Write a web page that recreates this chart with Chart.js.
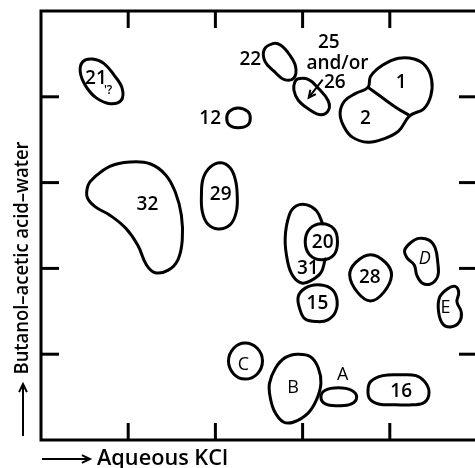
<!DOCTYPE html>
<html>
<head>
<meta charset="utf-8">
<script src="https://cdn.jsdelivr.net/npm/chart.js@4"></script>
<style>
  html, body { margin: 0; padding: 0; background: #fff; overflow: hidden; }
  #wrap { width: 480px; height: 468px; }
</style>
</head>
<body>
<div id="wrap"><canvas id="spots" width="480" height="468"></canvas></div>
<script>
// Spot outlines (both axes 0..50, ticks every 10)
const spot21x = [5.9, 7.2, 8.4, 9.3, 9.2, 7.9, 6.3, 5.1, 4.5, 4.8];
const spot21y = [44.4, 43.9, 42.5, 41.0, 39.6, 39.2, 39.9, 41.3, 42.9, 44.1];

const spot22x = [26.6, 27.5, 28.5, 29.2, 29.0, 27.9, 26.8, 25.7, 25.6];
const spot22y = [46.2, 46.0, 44.9, 43.5, 42.2, 42.0, 42.9, 44.1, 45.5];

const spot25x = [29.5, 30.7, 31.8, 32.9, 33.0, 32.1, 30.8, 29.5, 29.0, 29.1];
const spot25y = [42.1, 42.0, 41.0, 39.6, 38.5, 37.9, 38.5, 39.6, 40.8, 41.7];

const spot12x = [22.6, 23.7, 24.0, 23.7, 22.6, 21.6, 21.3, 21.6];
const spot12y = [38.7, 38.3, 37.5, 36.7, 36.4, 36.7, 37.5, 38.3];

// 1 und 2 zusammen als Umriss, dazu die Trennlinie
const spot1and2x = [37.5, 37.8, 39.2, 41.0, 42.8, 44.1, 44.8, 44.7, 43.9, 42.3, 41.0, 39.3, 37.5, 35.7, 34.7, 34.3, 34.8, 36.1];
const spot1and2y = [41.1, 42.4, 43.7, 44.5, 44.4, 43.6, 42.0, 40.1, 38.6, 37.8, 36.0, 35.1, 34.7, 35.3, 36.6, 38.1, 39.5, 40.4];
const dividerx = [37.5, 39.0, 40.8, 42.3];
const dividery = [41.1, 40.0, 38.7, 37.8];

const spot32x = [6.0, 7.9, 10.2, 12.5, 14.3, 15.4, 16.1, 16.2, 15.7, 14.6, 13.1, 12.1, 11.1, 9.7, 7.9, 6.2, 5.3, 5.4];
const spot32y = [30.5, 31.9, 32.4, 32.2, 30.9, 28.9, 26.2, 23.3, 21.0, 19.8, 19.5, 20.4, 22.7, 24.7, 26.2, 27.2, 28.3, 29.7];

const spot29x = [19.4, 20.6, 21.7, 22.3, 22.5, 22.4, 21.7, 20.3, 19.1, 18.5, 18.4, 18.6];
const spot29y = [31.8, 32.3, 31.7, 30.3, 28.6, 26.6, 25.1, 24.6, 25.2, 26.6, 28.6, 30.5];

// 31 is open: both ends stop at the rim of 20
const spot31x = [32.3, 31.6, 30.5, 29.3, 28.5, 28.0, 28.3, 28.9, 29.9, 31.0, 32.1, 32.6];
const spot31y = [25.2, 26.7, 27.4, 27.3, 26.3, 23.5, 20.7, 19.1, 18.3, 18.6, 19.5, 21.1];

const spot20x = [32.2, 33.6, 34.0, 33.6, 32.2, 30.8, 30.3, 30.8];
const spot20y = [25.2, 24.6, 23.1, 21.6, 21.0, 21.6, 23.1, 24.6];

const spot15x = [31.7, 33.2, 33.9, 33.8, 32.9, 31.7, 30.3, 29.7, 29.5, 30.3];
const spot15y = [18.1, 17.7, 16.6, 15.0, 14.0, 13.8, 14.1, 15.2, 16.7, 17.7];

const spot28x = [37.8, 39.5, 40.2, 39.3, 37.8, 36.3, 35.4, 36.1];
const spot28y = [21.6, 20.7, 19.2, 17.2, 16.2, 17.2, 19.2, 20.7];

const spotDx = [42.4, 43.3, 44.5, 45.2, 45.5, 45.5, 44.7, 43.7, 43.1, 42.8, 42.0, 41.7];
const spotDy = [23.0, 23.5, 23.3, 22.4, 20.7, 19.1, 18.2, 18.3, 19.2, 20.4, 21.2, 22.1];

const spotEx = [46.6, 47.5, 47.9, 47.7, 48.2, 48.0, 47.1, 46.1, 45.6, 45.7];
const spotEy = [17.6, 17.9, 17.2, 16.1, 14.9, 13.8, 13.2, 13.5, 14.9, 16.6];

const spotCx = [23.4, 24.8, 25.4, 24.8, 23.4, 22.1, 21.5, 22.1];
const spotCy = [11.3, 10.7, 9.2, 7.7, 7.1, 7.7, 9.2, 10.7];

const spotBx = [26.9, 28.0, 29.4, 30.9, 31.8, 32.1, 31.6, 30.6, 29.0, 27.8, 26.8, 26.3, 26.2];
const spotBy = [8.4, 9.6, 10.0, 9.7, 8.4, 6.6, 4.7, 3.1, 2.1, 2.1, 3.3, 4.9, 6.6];

const spotAx = [34.1, 35.6, 36.2, 35.6, 34.1, 32.6, 32.1, 32.6];
const spotAy = [6.1, 5.8, 5.0, 4.2, 4.0, 4.2, 5.0, 5.8];

const spot16x = [37.8, 39.2, 41.3, 43.0, 44.0, 44.5, 44.0, 42.6, 40.7, 38.7, 37.7, 37.5];
const spot16y = [6.8, 7.5, 7.6, 7.5, 6.8, 5.6, 4.4, 4.1, 4.1, 4.2, 4.8, 5.8];

// Beschriftungen der Flecken
const labelText = ["21", "'?", "22", "25", "and/or", "26", "1", "2", "12", "32", "29", "20", "31", "15", "28", "D", "E", "C", "B", "A", "16"];
const labelX = [6.3, 7.7, 24.0, 33.0, 34.0, 33.7, 41.3, 37.2, 19.4, 12.2, 20.6, 32.3, 30.6, 31.7, 37.7, 44.0, 46.4, 23.2, 28.9, 34.6, 41.3];
const labelY = [42.1, 40.7, 44.3, 46.3, 43.9, 41.6, 41.6, 37.5, 37.5, 27.4, 28.6, 23.0, 20.0, 15.9, 18.9, 21.1, 15.4, 8.7, 6.1, 7.6, 5.6];

// Pfeil von "26" zum Fleck
const arrowX = [32.3, 30.7];
const arrowY = [42.0, 39.9];

const tickValues = [10, 20, 30, 40];
const xTitle = "Aqueous KCl";
const yTitle = "Butanol\u2013acetic acid\u2013water";

// Punkte bauen; geschlossene Umrisse bekommen vorne und hinten einen Punkt dazu,
// damit die Kurve auch am Anfang rund wird (diese Randstuecke bleiben unsichtbar)
function makePoints(xs, ys, closed) {
  let pts = xs.map(function (x, i) {
    return { x: x, y: ys[i] };
  });
  if (closed) {
    pts = [pts[pts.length - 1]].concat(pts, [pts[0], pts[1]]);
  }
  return pts;
}

function spot(xs, ys, closed) {
  const pts = makePoints(xs, ys, closed);
  const lastSeg = pts.length - 2;
  const ds = {
    data: pts,
    showLine: true,
    borderColor: "#000",
    borderWidth: 3,
    borderJoinStyle: "round",
    borderCapStyle: "round",
    tension: 0.4,
    pointRadius: 0,
    pointHoverRadius: 0,
    fill: false,
  };
  if (closed) {
    ds.segment = {
      borderColor: function (c) {
        if (c.p0DataIndex === 0 || c.p0DataIndex === lastSeg) return "rgba(0,0,0,0)";
        return undefined;
      },
    };
  }
  return ds;
}

const datasets = [
  spot(spot21x, spot21y, true),
  spot(spot22x, spot22y, true),
  spot(spot25x, spot25y, true),
  spot(spot12x, spot12y, true),
  spot(spot1and2x, spot1and2y, true),
  spot(dividerx, dividery, false),
  spot(spot32x, spot32y, true),
  spot(spot29x, spot29y, true),
  spot(spot31x, spot31y, false),
  spot(spot20x, spot20y, true),
  spot(spot15x, spot15y, true),
  spot(spot28x, spot28y, true),
  spot(spotDx, spotDy, true),
  spot(spotEx, spotEy, true),
  spot(spotCx, spotCy, true),
  spot(spotBx, spotBy, true),
  spot(spotAx, spotAy, true),
  spot(spot16x, spot16y, true),
];

function strokeLine(ctx, x1, y1, x2, y2) {
  ctx.beginPath();
  ctx.moveTo(x1, y1);
  ctx.lineTo(x2, y2);
  ctx.stroke();
}

// offene Pfeilspitze am Punkt (x2, y2)
function arrowHead(ctx, x1, y1, x2, y2, len) {
  const ang = Math.atan2(y2 - y1, x2 - x1);
  ctx.beginPath();
  ctx.moveTo(x2 - len * Math.cos(ang - 0.45), y2 - len * Math.sin(ang - 0.45));
  ctx.lineTo(x2, y2);
  ctx.lineTo(x2 - len * Math.cos(ang + 0.45), y2 - len * Math.sin(ang + 0.45));
  ctx.stroke();
}

const paperPlugin = {
  id: "paper",
  afterDatasetsDraw(chart) {
    const ctx = chart.ctx;
    const xs = chart.scales.x;
    const ys = chart.scales.y;
    const a = chart.chartArea;
    ctx.save();
    ctx.strokeStyle = "#000";
    ctx.fillStyle = "#000";
    ctx.lineWidth = 3;
    ctx.lineCap = "butt";

    // Rahmen und Striche nach innen
    ctx.strokeRect(a.left, a.top, a.right - a.left, a.bottom - a.top);
    tickValues.forEach(function (v) {
      const px = xs.getPixelForValue(v);
      const py = ys.getPixelForValue(v);
      strokeLine(ctx, px, a.bottom, px, a.bottom - 17);
      strokeLine(ctx, px, a.top, px, a.top + 17);
      strokeLine(ctx, a.left, py, a.left + 18, py);
      strokeLine(ctx, a.right, py, a.right - 18, py);
    });

    // Beschriftungen
    ctx.textAlign = "center";
    ctx.textBaseline = "middle";
    labelText.forEach(function (t, i) {
      if (/^[A-E]$/.test(t)) {
        ctx.font = (t === "D" ? "italic " : "") + "500 18px 'Open Sans'";
      } else if (t === "'?") {
        ctx.font = "600 12px 'Open Sans'";
      } else {
        ctx.font = "600 19px 'Open Sans'";
      }
      ctx.fillText(t, xs.getPixelForValue(labelX[i]), ys.getPixelForValue(labelY[i]));
    });

    // Pfeil zu 25/26
    ctx.lineWidth = 2;
    const ax1 = xs.getPixelForValue(arrowX[0]);
    const ay1 = ys.getPixelForValue(arrowY[0]);
    const ax2 = xs.getPixelForValue(arrowX[1]);
    const ay2 = ys.getPixelForValue(arrowY[1]);
    strokeLine(ctx, ax1, ay1, ax2, ay2);
    arrowHead(ctx, ax1, ay1, ax2, ay2, 8);

    // Achsentitel mit Pfeilen (schmal gedrueckt wie im Original)
    ctx.font = "600 22px 'Open Sans'";
    ctx.textAlign = "left";
    ctx.fillText(xTitle, 97, 459, 131);
    strokeLine(ctx, 42, 459, 90, 459);
    arrowHead(ctx, 42, 459, 90, 459, 9);

    ctx.save();
    ctx.translate(22, 258);
    ctx.rotate(-Math.PI / 2);
    ctx.textAlign = "center";
    ctx.font = "600 20px 'Open Sans'";
    ctx.fillText(yTitle, 0, 0, 233);
    ctx.restore();
    strokeLine(ctx, 23, 436, 23, 384);
    arrowHead(ctx, 23, 436, 23, 384, 9);

    ctx.restore();
  },
};

new Chart(document.querySelector("#spots"), {
  type: "scatter",
  data: { datasets: datasets },
  options: {
    responsive: false,
    animation: false,
    layout: { padding: { left: 41, top: 11, right: 3, bottom: 28 } },
    plugins: {
      legend: { display: false },
      tooltip: { enabled: false },
    },
    scales: {
      x: { display: false, min: 0, max: 50 },
      y: { display: false, min: 0, max: 50 },
    },
  },
  plugins: [paperPlugin],
});
</script>
</body>
</html>
